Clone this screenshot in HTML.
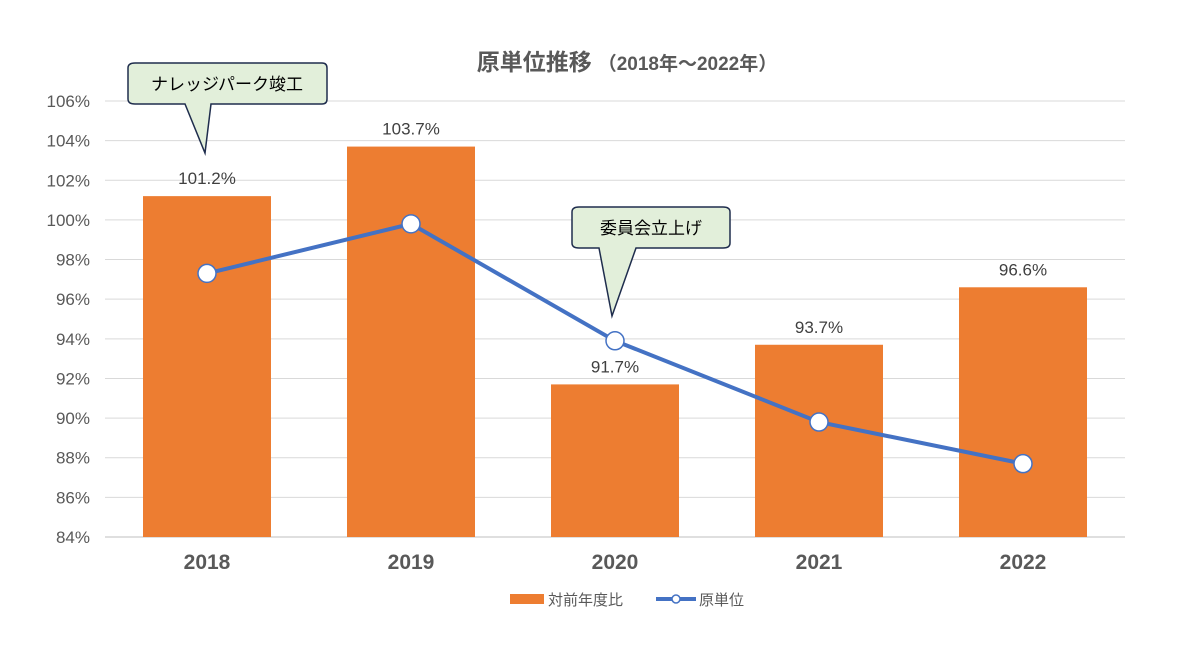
<!DOCTYPE html>
<html><head><meta charset="utf-8"><style>
body{margin:0;background:#fff;}
svg text{font-family:"Liberation Sans","Noto Sans CJK JP",sans-serif;}
</style></head><body>
<svg id="chart" width="1200" height="650" viewBox="0 0 1200 650">
<rect width="1200" height="650" fill="#fff"/>
<text x="627" y="70" text-anchor="middle" fill="#595959"><tspan font-size="23" font-weight="bold">原単位推移</tspan><tspan font-size="19" font-weight="bold" dx="6">（2018年～2022年）</tspan></text>
<g id="grid"></g><g id="bars"></g><g id="line"></g><g id="labels"></g>
<g>
<path d="M135,63 H322 Q327,63 327,68 V99 Q327,104 322,104 H211 L205,153 L185,104 H135 Q128,104 128,99 V68 Q128,63 135,63 Z" fill="#e2efda" stroke="#1f2d4d" stroke-width="1.5"/>
<text x="227" y="90" text-anchor="middle" font-size="17" fill="#000">ナレッジパーク竣工</text>
</g>
<g>
<path d="M579,207 H723 Q730,207 730,212 V243 Q730,248 723,248 H636 L612,316 L599,248 H579 Q572,248 572,243 V212 Q572,207 579,207 Z" fill="#e2efda" stroke="#1f2d4d" stroke-width="1.5"/>
<text x="651" y="234" text-anchor="middle" font-size="17" fill="#000">委員会立上げ</text>
</g>
<g>
<rect x="510" y="594" width="34" height="10" fill="#ed7d31"/>
<text x="548" y="605" font-size="15" fill="#595959">対前年度比</text>
<line x1="656" y1="599" x2="696" y2="599" stroke="#4472c4" stroke-width="4"/>
<circle cx="676" cy="599" r="4" fill="#fff" stroke="#4472c4" stroke-width="1.5"/>
<text x="699" y="605" font-size="15" fill="#595959">原単位</text>
</g>
</svg>
<script>
const categories=["2018","2019","2020","2021","2022"];
const barValues=[101.2,103.7,91.7,93.7,96.6];
const lineValues=[97.3,99.8,93.9,89.8,87.7];
const yTicks=[84,86,88,90,92,94,96,98,100,102,104,106];
const NS="http://www.w3.org/2000/svg";
const left=105,right=1125,y0=537,y1=101,yMin=84,yMax=106;
function yScale(v){return y0-(v-yMin)/(yMax-yMin)*(y0-y1);}
function xScale(i){return left+(right-left)/categories.length*(i+0.5);}
function mk(tag,attrs,parent,txt){const e=document.createElementNS(NS,tag);for(const k in attrs)e.setAttribute(k,attrs[k]);if(txt!==undefined)e.textContent=txt;parent.appendChild(e);return e;}
const grid=document.getElementById('grid'),bars=document.getElementById('bars'),line=document.getElementById('line'),labels=document.getElementById('labels');
yTicks.forEach(t=>{
 const l=mk('line',{x1:left,x2:right,y1:yScale(t),y2:yScale(t),stroke:t===84?'#bfbfbf':'#d9d9d9','stroke-width':1},grid);
 
 
 const tx=mk('text',{x:90,y:yScale(t)+6,'text-anchor':'end','font-size':17,fill:'#595959'},grid,t+'%');
 
 
});
const bw=128;
categories.forEach((c,i)=>{
 const x=xScale(i),y=yScale(barValues[i]);
 const r=mk('rect',{x:x-bw/2,y:y,width:bw,height:y0-y,fill:'#ed7d31'},bars);
 
 
 const v=mk('text',{x:x,y:y-12,'text-anchor':'middle','font-size':17,fill:'#404040'},labels,barValues[i].toFixed(1)+'%');
 
 
 const xl=mk('text',{x:x,y:569,'text-anchor':'middle','font-size':21,'font-weight':'bold',fill:'#595959'},labels,c);
 
 
});
const pts=lineValues.map((v,i)=>xScale(i)+','+yScale(v)).join(' ');
const pl=mk('polyline',{points:pts,fill:'none',stroke:'#4472c4','stroke-width':4},line);


lineValues.forEach((v,i)=>{
 const c=mk('circle',{cx:xScale(i),cy:yScale(v),r:9,fill:'#fff',stroke:'#4472c4','stroke-width':1.5},line);
 
 
});
</script>
</body></html>
